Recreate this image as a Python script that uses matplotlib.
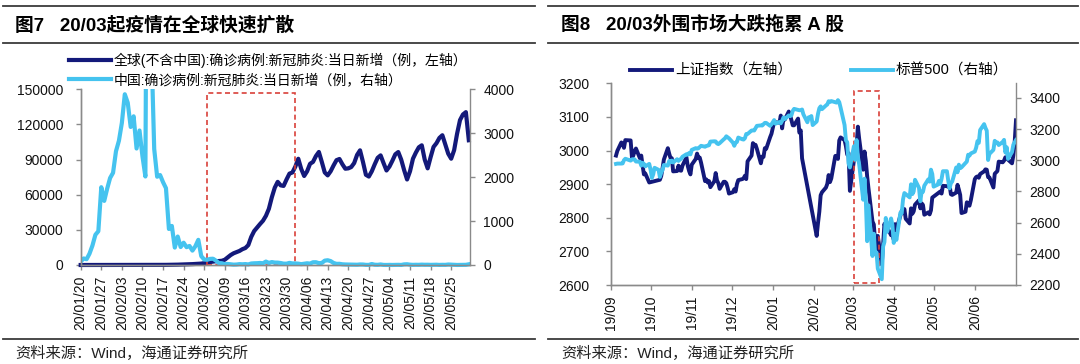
import matplotlib
matplotlib.use('Agg')
import matplotlib.pyplot as plt
import matplotlib.dates as mdates
from matplotlib.lines import Line2D
from matplotlib.patches import Rectangle
import pandas as pd

plt.rcParams['font.family'] = ['Liberation Sans', 'Noto Sans CJK SC']

DARK = '#13197a'
LIGHT = '#45c3ef'
RED = '#d9413a'
GRAY = '#8a8a8a'

# ---- 图7 data: daily new cases, starting 2020-01-20 ----
world_new = [1, 2, 3, 4, 9, 10, 12, 15, 18, 14, 20, 25, 16, 12, 15, 20, 18, 22, 30, 25,
             40, 60, 45, 80, 75, 70, 90, 100, 110, 120, 150,
             200, 250, 300, 380, 450, 550, 650, 750, 900, 1000,
             1200, 1600, 2100, 2500, 2900, 3200, 3400, 3600, 4500, 6500,
             8500, 10000, 11000, 12000, 13500, 14500, 17000, 24000, 29000, 32000,
             35000, 37800, 42000, 48000, 57800, 66000, 71000, 68000, 67500, 73000,
             78000, 79000, 84000, 90700, 82000, 76000, 80000, 86400, 88000, 93000,
             96500, 88000, 79000, 76500, 80000, 85000, 89500, 90500, 86000, 82200,
             82500, 83600, 87000, 94000, 97900, 88000, 77000, 75500, 80000, 86000,
             91500, 93600, 87000, 80700, 84000, 89000, 94500, 96450, 90000, 81000,
             73000, 80000, 90750, 96000, 100500, 102200, 90000, 82500, 92000, 100800,
             104000, 108500, 110800, 103000, 95000, 90750, 98000, 112000, 123700, 128500,
             130500, 106500]

china_new = [77, 149, 131, 259, 444, 688, 769, 1771, 1459, 1737,
             1981, 2099, 2590, 2829, 3235, 3887, 3694, 3143, 3385, 2652,
             3062, 2478, 2015, 15152, 5090, 2641, 2009, 2048, 1886, 1749,
             820, 889, 397, 648, 409, 508, 406, 433, 327, 427,
             573, 202, 125, 119, 139, 143, 99, 44, 40, 19,
             24, 15, 8, 11, 20, 16, 21, 13, 34, 39,
             41, 46, 39, 78, 47, 67, 55, 54, 45, 31,
             30, 48, 36, 35, 31, 19, 30, 39, 32, 62,
             63, 42, 46, 99, 108, 89, 46, 26, 27, 16,
             12, 11, 10, 11, 6, 12, 11, 3, 3, 22,
             6, 4, 12, 2, 1, 3, 1, 2, 4, 1,
             14, 17, 7, 3, 5, 4, 8, 5, 6, 3,
             5, 6, 2, 4, 3, 11, 7, 5, 1, 2,
             4, 4, 16]

covid_ticks = ['2020-01-20', '2020-01-27', '2020-02-03', '2020-02-10', '2020-02-17',
               '2020-02-24', '2020-03-02', '2020-03-09', '2020-03-16', '2020-03-23',
               '2020-03-30', '2020-04-06', '2020-04-13', '2020-04-20', '2020-04-27',
               '2020-05-04', '2020-05-11', '2020-05-18', '2020-05-25']

# ---- 图8 data: 上证指数 ----
sse_dates = ['2019-09-05', '2019-09-06', '2019-09-09', '2019-09-10',
             '2019-09-11', '2019-09-12', '2019-09-16', '2019-09-17', '2019-09-18', '2019-09-19', '2019-09-20',
             '2019-09-23', '2019-09-24', '2019-09-25', '2019-09-26', '2019-09-27', '2019-09-30',
             '2019-10-08', '2019-10-09', '2019-10-10', '2019-10-11', '2019-10-14', '2019-10-15', '2019-10-16',
             '2019-10-17', '2019-10-18', '2019-10-21', '2019-10-22', '2019-10-23', '2019-10-24', '2019-10-25',
             '2019-10-28', '2019-10-29', '2019-10-30', '2019-10-31',
             '2019-11-01', '2019-11-04', '2019-11-05', '2019-11-06', '2019-11-07', '2019-11-08', '2019-11-11',
             '2019-11-12', '2019-11-13', '2019-11-14', '2019-11-15', '2019-11-18', '2019-11-19', '2019-11-20',
             '2019-11-21', '2019-11-22', '2019-11-25', '2019-11-26', '2019-11-27', '2019-11-28', '2019-11-29',
             '2019-12-02', '2019-12-03', '2019-12-04', '2019-12-05', '2019-12-06', '2019-12-09', '2019-12-10',
             '2019-12-11', '2019-12-12', '2019-12-13', '2019-12-16', '2019-12-17', '2019-12-18', '2019-12-19',
             '2019-12-20', '2019-12-23', '2019-12-24', '2019-12-25', '2019-12-26', '2019-12-27', '2019-12-30',
             '2019-12-31',
             '2020-01-02', '2020-01-03', '2020-01-06', '2020-01-07', '2020-01-08', '2020-01-09', '2020-01-10',
             '2020-01-13', '2020-01-14', '2020-01-15', '2020-01-16', '2020-01-17', '2020-01-20', '2020-01-21',
             '2020-01-22', '2020-01-23',
             '2020-02-03', '2020-02-04', '2020-02-05', '2020-02-06', '2020-02-07', '2020-02-10', '2020-02-11',
             '2020-02-12', '2020-02-13', '2020-02-14', '2020-02-17', '2020-02-18', '2020-02-19', '2020-02-20',
             '2020-02-21', '2020-02-24', '2020-02-25', '2020-02-26', '2020-02-27', '2020-02-28',
             '2020-03-02', '2020-03-03', '2020-03-04', '2020-03-05', '2020-03-06', '2020-03-09', '2020-03-10',
             '2020-03-11', '2020-03-12', '2020-03-13', '2020-03-16', '2020-03-17', '2020-03-18', '2020-03-19',
             '2020-03-20', '2020-03-23', '2020-03-24', '2020-03-25', '2020-03-26', '2020-03-27', '2020-03-30',
             '2020-03-31',
             '2020-04-01', '2020-04-02', '2020-04-03', '2020-04-07', '2020-04-08', '2020-04-09', '2020-04-10',
             '2020-04-13', '2020-04-14', '2020-04-15', '2020-04-16', '2020-04-17', '2020-04-20', '2020-04-21',
             '2020-04-22', '2020-04-23', '2020-04-24', '2020-04-27', '2020-04-28', '2020-04-29', '2020-04-30',
             '2020-05-06', '2020-05-07', '2020-05-08', '2020-05-11', '2020-05-12', '2020-05-13', '2020-05-14',
             '2020-05-15', '2020-05-18', '2020-05-19', '2020-05-20', '2020-05-21', '2020-05-22', '2020-05-25',
             '2020-05-26', '2020-05-27', '2020-05-28', '2020-05-29',
             '2020-06-01', '2020-06-02', '2020-06-03', '2020-06-04', '2020-06-05', '2020-06-08', '2020-06-09',
             '2020-06-10', '2020-06-11', '2020-06-12', '2020-06-15', '2020-06-16', '2020-06-17', '2020-06-18',
             '2020-06-19', '2020-06-22', '2020-06-23', '2020-06-24', '2020-06-29', '2020-06-30',
             '2020-07-01', '2020-07-02']
sse_vals = [2985, 2999, 3024, 3021,
            3008, 3031, 3030, 2979, 2985, 2999, 3006,
            2977, 2985, 2955, 2929, 2932, 2905,
            2913, 2924, 2947, 2973, 3007, 2991, 2978,
            2977, 2938, 2939, 2955, 2941, 2940, 2955,
            2980, 2954, 2939, 2929,
            2958, 2975, 2991, 2978, 2979, 2964, 2909,
            2914, 2905, 2909, 2891, 2909, 2933, 2911,
            2903, 2886, 2907, 2907, 2903, 2889, 2872,
            2876, 2885, 2878, 2900, 2912, 2915, 2917,
            2925, 2915, 2968, 2985, 3022, 3017, 3017,
            3005, 2962, 2982, 2981, 3007, 3005, 3040,
            3050,
            3085, 3084, 3083, 3104, 3066, 3094, 3092,
            3116, 3106, 3091, 3075, 3075, 3095, 3053,
            3060, 2977,
            2746, 2784, 2818, 2867, 2876, 2890, 2901,
            2927, 2906, 2917, 2984, 2984, 2975, 3030,
            3039, 3031, 3013, 2988, 2992, 2880,
            2970, 2993, 3012, 3071, 3035, 2943, 2997,
            2969, 2923, 2887, 2789, 2780, 2728, 2702,
            2746, 2661, 2722, 2782, 2765, 2772, 2748,
            2750,
            2735, 2781, 2764, 2821, 2815, 2826, 2797,
            2783, 2828, 2812, 2819, 2839, 2852, 2828,
            2843, 2838, 2809, 2816, 2810, 2822, 2860,
            2878, 2872, 2895, 2894, 2892, 2898, 2870,
            2868, 2875, 2898, 2884, 2868, 2814, 2818,
            2846, 2837, 2836, 2852,
            2915, 2921, 2923, 2919, 2930, 2938, 2944,
            2943, 2921, 2920, 2890, 2931, 2935, 2939,
            2967, 2965, 2970, 2980, 2962, 2985,
            3025, 3090]

# ---- 图8 data: 标普500 ----
spx_dates = ['2019-09-05', '2019-09-06', '2019-09-09', '2019-09-10', '2019-09-11',
             '2019-09-12', '2019-09-13', '2019-09-16', '2019-09-17', '2019-09-18', '2019-09-19', '2019-09-20',
             '2019-09-23', '2019-09-24', '2019-09-25', '2019-09-26', '2019-09-27', '2019-09-30',
             '2019-10-01', '2019-10-02', '2019-10-03', '2019-10-04', '2019-10-07', '2019-10-08', '2019-10-09',
             '2019-10-10', '2019-10-11', '2019-10-14', '2019-10-15', '2019-10-16', '2019-10-17', '2019-10-18',
             '2019-10-21', '2019-10-22', '2019-10-23', '2019-10-24', '2019-10-25', '2019-10-28', '2019-10-29',
             '2019-10-30', '2019-10-31',
             '2019-11-01', '2019-11-04', '2019-11-05', '2019-11-06', '2019-11-07', '2019-11-08', '2019-11-11',
             '2019-11-12', '2019-11-13', '2019-11-14', '2019-11-15', '2019-11-18', '2019-11-19', '2019-11-20',
             '2019-11-21', '2019-11-22', '2019-11-25', '2019-11-26', '2019-11-27', '2019-11-29',
             '2019-12-02', '2019-12-03', '2019-12-04', '2019-12-05', '2019-12-06', '2019-12-09', '2019-12-10',
             '2019-12-11', '2019-12-12', '2019-12-13', '2019-12-16', '2019-12-17', '2019-12-18', '2019-12-19',
             '2019-12-20', '2019-12-23', '2019-12-24', '2019-12-26', '2019-12-27', '2019-12-30', '2019-12-31',
             '2020-01-02', '2020-01-03', '2020-01-06', '2020-01-07', '2020-01-08', '2020-01-09', '2020-01-10',
             '2020-01-13', '2020-01-14', '2020-01-15', '2020-01-16', '2020-01-17', '2020-01-21', '2020-01-22',
             '2020-01-23', '2020-01-24', '2020-01-27', '2020-01-28', '2020-01-29', '2020-01-30', '2020-01-31',
             '2020-02-03', '2020-02-04', '2020-02-05', '2020-02-06', '2020-02-07', '2020-02-10', '2020-02-11',
             '2020-02-12', '2020-02-13', '2020-02-14', '2020-02-18', '2020-02-19', '2020-02-20', '2020-02-21',
             '2020-02-24', '2020-02-25', '2020-02-26', '2020-02-27', '2020-02-28',
             '2020-03-02', '2020-03-03', '2020-03-04', '2020-03-05', '2020-03-06', '2020-03-09', '2020-03-10',
             '2020-03-11', '2020-03-12', '2020-03-13', '2020-03-16', '2020-03-17', '2020-03-18', '2020-03-19',
             '2020-03-20', '2020-03-23', '2020-03-24', '2020-03-25', '2020-03-26', '2020-03-27', '2020-03-30',
             '2020-03-31',
             '2020-04-01', '2020-04-02', '2020-04-03', '2020-04-06', '2020-04-07', '2020-04-08', '2020-04-09',
             '2020-04-13', '2020-04-14', '2020-04-15', '2020-04-16', '2020-04-17', '2020-04-20', '2020-04-21',
             '2020-04-22', '2020-04-23', '2020-04-24', '2020-04-27', '2020-04-28', '2020-04-29', '2020-04-30',
             '2020-05-01', '2020-05-04', '2020-05-05', '2020-05-06', '2020-05-07', '2020-05-08', '2020-05-11',
             '2020-05-12', '2020-05-13', '2020-05-14', '2020-05-15', '2020-05-18', '2020-05-19', '2020-05-20',
             '2020-05-21', '2020-05-22', '2020-05-26', '2020-05-27', '2020-05-28', '2020-05-29',
             '2020-06-01', '2020-06-02', '2020-06-03', '2020-06-04', '2020-06-05', '2020-06-08', '2020-06-09',
             '2020-06-10', '2020-06-11', '2020-06-12', '2020-06-15', '2020-06-16', '2020-06-17', '2020-06-18',
             '2020-06-19', '2020-06-22', '2020-06-23', '2020-06-24', '2020-06-25', '2020-06-26', '2020-06-29',
             '2020-06-30', '2020-07-01', '2020-07-02']
spx_vals = [2977, 2979, 2979, 2980, 3001,
            3010, 3007, 2998, 3006, 3007, 3006, 2992,
            2991, 2966, 2984, 2977, 2961, 2977,
            2940, 2887, 2910, 2952, 2939, 2893, 2919,
            2938, 2970, 2966, 2996, 2989, 2998, 2986,
            3007, 2996, 3004, 3010, 3023, 3039, 3036,
            3047, 3038,
            3067, 3078, 3075, 3077, 3085, 3093, 3087,
            3092, 3094, 3097, 3120, 3122, 3121, 3108,
            3104, 3110, 3134, 3141, 3154, 3141,
            3113, 3093, 3113, 3118, 3146, 3135, 3133,
            3142, 3169, 3169, 3191, 3192, 3191, 3206,
            3221, 3224, 3223, 3240, 3240, 3221, 3231,
            3258, 3235, 3246, 3237, 3253, 3275, 3265,
            3288, 3283, 3289, 3317, 3330, 3321, 3322,
            3326, 3295, 3244, 3276, 3274, 3284, 3226,
            3249, 3298, 3334, 3346, 3328, 3352, 3358,
            3379, 3374, 3380, 3370, 3386, 3373, 3338,
            3226, 3128, 3116, 2979, 2954,
            3090, 3003, 3130, 3024, 2972, 2747, 2882,
            2741, 2481, 2711, 2386, 2529, 2398, 2409,
            2305, 2237, 2447, 2476, 2630, 2541, 2627,
            2585,
            2470, 2527, 2489, 2664, 2660, 2750, 2790,
            2762, 2846, 2783, 2800, 2875, 2823, 2737,
            2799, 2798, 2837, 2878, 2863, 2940, 2912,
            2831, 2843, 2868, 2849, 2881, 2930, 2930,
            2870, 2820, 2853, 2864, 2954, 2923, 2972,
            2949, 2955, 2992, 3036, 3030, 3044,
            3056, 3081, 3123, 3112, 3194, 3232, 3208,
            3190, 3002, 3041, 3067, 3125, 3113, 3115,
            3098, 3118, 3131, 3050, 3084, 3009, 3053,
            3100, 3116, 3130]

W, H = 1080, 364
fig = plt.figure(figsize=(W / 100, H / 100), dpi=100)


def fig_line(x0, x1, y, lw=1.3, color='#3a3a3a'):
    fig.add_artist(Line2D([x0 / W, x1 / W], [1 - y / H, 1 - y / H],
                          transform=fig.transFigure, color=color, lw=lw))


def style_axes(ax, axr):
    for a in (ax, axr):
        a.spines['top'].set_visible(False)
        for s in ('left', 'right', 'bottom'):
            a.spines[s].set_color(GRAY)
            a.spines[s].set_linewidth(1.0)
        a.tick_params(colors=GRAY, labelcolor='#111111', labelsize=10, length=3.5, width=1.0)
    ax.spines['right'].set_visible(False)
    ax.tick_params(axis='y', pad=9)
    axr.tick_params(axis='y', pad=6)
    ax.tick_params(axis='x', pad=4, labelrotation=90)


# ---------------- 图7 ----------------
fig_line(3, 535, 6)
fig_line(3, 535, 43)
fig_line(3, 535, 339)
fig.text(15 / W, 1 - 25 / H, '图7   20/03起疫情在全球快速扩散', fontsize=13.5, fontweight='bold',
         va='center', ha='left')
fig.text(15 / W, 1 - 353 / H, '资料来源：Wind，海通证券研究所', fontsize=11, va='center', ha='left',
         color='#222222')

ax1 = fig.add_axes([80.7 / W, 1 - 265 / H, (470 - 80.7) / W, (265 - 89.3) / H])
ax1r = ax1.twinx()
start = pd.Timestamp('2020-01-20')
d_world = pd.date_range(start, periods=len(world_new))
d_china = pd.date_range(start, periods=len(china_new))
ln1, = ax1.plot(d_world, world_new, color=DARK, lw=3, clip_on=False, solid_joinstyle='round')
ln2, = ax1r.plot(d_china, china_new, color=LIGHT, lw=3, solid_joinstyle='round')
ln2.set_clip_path(Rectangle((0, -0.05), 1, 1.05, transform=ax1r.transAxes))
ax1.set_xlim(start, start + pd.Timedelta(days=132.4))
ax1.set_ylim(0, 150000)
ax1r.set_ylim(0, 4000)
ax1.set_yticks([0, 30000, 60000, 90000, 120000, 150000])
ax1r.set_yticks([0, 1000, 2000, 3000, 4000])
ax1.set_xticks(pd.to_datetime(covid_ticks))
ax1.xaxis.set_major_formatter(mdates.DateFormatter('%y/%m/%d'))
style_axes(ax1, ax1r)
ax1.add_patch(Rectangle((mdates.date2num(pd.Timestamp('2020-03-03')), 0), 30, 147000,
                        fill=False, ec=RED, lw=1.2, ls=(0, (3, 2)), zorder=5))

fig.legend([ln1, ln2], ['全球(不含中国):确诊病例:新冠肺炎:当日新增（例，左轴）',
                        '中国:确诊病例:新冠肺炎:当日新增（例，右轴）'],
           loc='upper left', bbox_to_anchor=(69 / W, 1 - 53 / H), frameon=False, fontsize=10,
           handlelength=3.0, handletextpad=0.2, labelspacing=0.35, borderpad=0, borderaxespad=0)

# ---------------- 图8 ----------------
fig_line(548, 1078, 6)
fig_line(548, 1078, 43)
fig_line(548, 1078, 339)
fig.text(561 / W, 1 - 25 / H, '图8   20/03外围市场大跌拖累 A 股', fontsize=13.5, fontweight='bold',
         va='center', ha='left')
fig.text(561 / W, 1 - 353 / H, '资料来源：Wind，海通证券研究所', fontsize=11, va='center', ha='left',
         color='#222222')

ax2 = fig.add_axes([610.7 / W, 1 - 285 / H, (1016 - 610.7) / W, (285 - 83.3) / H])
ax2r = ax2.twinx()
ln3, = ax2.plot(pd.to_datetime(sse_dates), sse_vals, color=DARK, lw=2.8, solid_joinstyle='round')
ln4, = ax2r.plot(pd.to_datetime(spx_dates), spx_vals, color=LIGHT, lw=2.8, solid_joinstyle='round')
ax2.set_xlim(pd.Timestamp('2019-09-01'), pd.Timestamp('2020-07-02'))
ax2.set_ylim(2600, 3200)
ax2r.set_ylim(2200, 3494)
ax2.set_yticks(range(2600, 3201, 100))
ax2r.set_yticks(range(2200, 3401, 200))
ax2.set_xticks(pd.date_range('2019-09-01', '2020-06-01', freq='MS'))
ax2.xaxis.set_major_formatter(mdates.DateFormatter('%y/%m'))
style_axes(ax2, ax2r)
ax2.tick_params(axis='y', pad=12)
ax2.add_patch(Rectangle((mdates.date2num(pd.Timestamp('2020-03-02')), 2607), 19, 570,
                        fill=False, ec=RED, lw=1.2, ls=(0, (3, 2)), zorder=5))

fig.legend([ln3, ln4], ['上证指数（左轴）', '标普500（右轴）'],
           loc='center left', bbox_to_anchor=(630 / W, 1 - 71 / H), frameon=False, fontsize=10.5,
           ncol=2, handlelength=2.9, handletextpad=0.2, columnspacing=4.0, borderpad=0, borderaxespad=0)

fig.savefig('out.png', dpi=100, facecolor='white')
